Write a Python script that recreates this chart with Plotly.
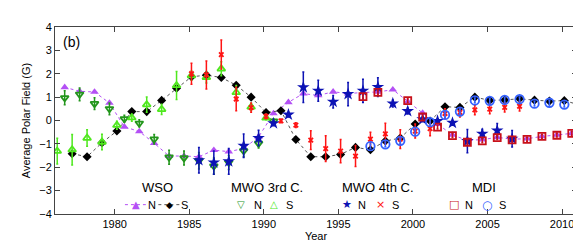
import plotly.graph_objects as go

# observation epochs within each year (north pole best seen ~Sept, south ~March)
NORTH_EPOCH = 0.65
SOUTH_EPOCH = 0.15

# ---- WSO ----
wso_n_years = list(range(1976, 2011))
wso_n = [1.42, 1.25, 1.22, 0.75, -0.27, -0.47, -0.97, -1.52, -1.52, -1.55,
         -1.27, -1.33, -1.2, -0.7, 0.3, 0.78, 1.15, 1.07, 1.23, 1.15,
         1.2, 1.22, 1.32, 0.8, 0.32, -0.15, -0.62, -0.85, -0.82, -0.72,
         -0.8, -0.78, -0.68, -0.62, -0.55]
wso_s_years = list(range(1977, 2012))
wso_s = [-1.42, -1.55, -0.95, -0.45, 0.38, 0.38, 0.86, 1.38, 1.87, 1.94,
         1.84, 1.51, 1.0, 0.34, 0.42, -0.81, -1.55, -1.55, -1.45, -1.15,
         -1.25, -0.88, -0.75, -0.15, -0.02, 0.59, 0.56, 1.0, 0.86, 0.88,
         0.93, 0.87, 0.83, 0.85, 0.67]

# ---- MWO 3rd calibration ----
mwo3_years = list(range(1976, 1991))
mwo3_n = [0.97, 1.12, 0.72, 0.5, 0.07, -0.12, -0.8, -1.57, -1.6, -1.72,
          -1.95, -1.8, -1.3, -0.98, -0.03]
mwo3_n_err = [0.3, 0.27, 0.25, 0.25, 0.15, 0.15, 0.2, 0.3, 0.3, 0.35,
              0.35, 0.3, 0.25, 0.2, 0.1]
mwo3_s = [-1.31, -1.25, -0.75, -0.92, -0.2, 0.12, 0.68, 0.48, 1.5, 1.92,
          1.85, 2.21, 1.2, 0.58, 0.11]
mwo3_s_err = [0.55, 0.65, 0.35, 0.33, 0.17, 0.15, 0.33, 0.22, 0.6, 0.2,
              0.25, 0.3, 0.3, 0.15, 0.08]

# ---- MWO 4th calibration ----
mwo4_n_years = list(range(1985, 2007))
mwo4_n = [-1.7, -1.8, -1.75, -1.08, -0.75, -0.12, 0.25, 1.42, 1.27, 0.8,
          1.13, 1.27, 1.43, 0.73, 0.4, 0.05, -0.02, -0.1, -0.88, -0.57,
          -0.43, -0.78]
mwo4_n_err = [0.55, 0.5, 0.55, 0.5, 0.33, 0.1, 0.1, 0.65, 0.45, 0.27,
              0.5, 0.5, 0.4, 0.15, 0.12, 0.1, 0.1, 0.1, 0.5, 0.2,
              0.3, 0.35]
mwo4_s_years = list(range(1985, 2008))
mwo4_s = [2.0, 1.95, 2.82, 0.92, 0.55, 0.18, -0.02, -0.2, -0.84, -1.2,
          -1.31, -1.52, -0.8, -0.57, -0.8, -0.45, -0.35, 0.3, 0.35, 0.45,
          0.49, 0.56, 0.61]
mwo4_s_err = [0.45, 0.6, 0.62, 0.5, 0.2, 0.1, 0.08, 0.1, 0.4, 0.55,
              0.5, 0.45, 0.3, 0.45, 0.4, 0.3, 0.3, 0.2, 0.2, 0.2,
              0.2, 0.2, 0.2]

# ---- MDI ----
mdi_n_years = list(range(1996, 2011))
mdi_n = [1.02, 1.2, None, 0.85, 0.15, -0.28, -0.65, -0.93, -0.87, -0.73,
         -0.83, -0.81, -0.68, -0.63, -0.55]
mdi_n_err = [0.08] * len(mdi_n_years)
mdi_s_years = list(range(1997, 2011))
mdi_s = [-1.1, -1.02, -0.87, -0.48, -0.07, 0.24, 0.38, 0.86, 0.84, 0.88,
         0.91, 0.72, 0.76, 0.68]
mdi_s_err = [0.1] * len(mdi_s_years)

x_ticks = [1980, 1985, 1990, 1995, 2000, 2005, 2010]
y_ticks = [-4, -3, -2, -1, 0, 1, 2, 3, 4]

PURPLE = "#b450f5"
BLACK = "#000000"
DKGREEN = "#23961c"
LTGREEN = "#4fe81e"
BLUE = "#0c12b4"
RED = "#ff1414"
DKRED = "#c8101a"
LTBLUE = "#3461ff"

def tn(years):
    return [y + NORTH_EPOCH for y in years]

def ts(years):
    return [y + SOUTH_EPOCH for y in years]

def err(arr, color):
    return dict(type="data", array=arr, visible=True, thickness=1.5, width=1, color=color)

fig = go.Figure()

fig.add_trace(go.Scatter(x=tn(wso_n_years), y=wso_n, mode="lines+markers",
                         line=dict(color=PURPLE, width=1, dash="dot"),
                         marker=dict(symbol="triangle-up", size=7.5, color=PURPLE)))
fig.add_trace(go.Scatter(x=ts(wso_s_years), y=wso_s, mode="lines+markers",
                         line=dict(color="#555555", width=1, dash="dot"),
                         marker=dict(symbol="diamond", size=7, color=BLACK)))
fig.add_trace(go.Scatter(x=tn(mwo3_years), y=mwo3_n, mode="markers",
                         error_y=err(mwo3_n_err, DKGREEN),
                         marker=dict(symbol="triangle-down-open", size=7, color=DKGREEN,
                                     line=dict(width=1.8, color=DKGREEN))))
fig.add_trace(go.Scatter(x=ts(mwo3_years), y=mwo3_s, mode="markers",
                         error_y=err(mwo3_s_err, LTGREEN),
                         marker=dict(symbol="triangle-up-open", size=7, color=LTGREEN,
                                     line=dict(width=1.8, color=LTGREEN))))
fig.add_trace(go.Scatter(x=tn(mwo4_n_years), y=mwo4_n, mode="markers",
                         error_y=err(mwo4_n_err, BLUE),
                         marker=dict(symbol="star", size=9.5, color=BLUE)))
fig.add_trace(go.Scatter(x=ts(mwo4_s_years), y=mwo4_s, mode="markers",
                         error_y=err(mwo4_s_err, RED),
                         marker=dict(symbol="x-thin-open", size=4.5, color=RED,
                                     line=dict(width=1.8, color=RED))))
fig.add_trace(go.Scatter(x=tn(mdi_n_years), y=mdi_n, mode="markers",
                         error_y=err(mdi_n_err, DKRED),
                         marker=dict(symbol="square-open", size=7, color=DKRED,
                                     line=dict(width=1.8, color=DKRED))))
fig.add_trace(go.Scatter(x=ts(mdi_s_years), y=mdi_s, mode="markers",
                         error_y=err(mdi_s_err, LTBLUE),
                         marker=dict(symbol="circle-open", size=8.5, color=LTBLUE,
                                     line=dict(width=1.8, color=LTBLUE))))

FONT = "Liberation Sans, Arial, sans-serif"

annotations = [
    dict(text="(b)", x=0.012, y=0.975, xref="paper", yref="paper", xanchor="left",
         yanchor="top", showarrow=False, font=dict(size=14, color="black")),
]

# legend block (group titles + entries)
LEG_TITLE_Y = 0.142
LEG_ROW_Y = 0.05
groups = [
    ("WSO", 0.197, [("▲", PURPLE, 0.155, 10), ("N", "black", 0.185, 11),
                    ("◆", BLACK, 0.2185, 9), ("S", "black", 0.249, 11)]),
    ("MWO 3rd C.", 0.406, [("▽", DKGREEN, 0.357, 10), ("N", "black", 0.388, 11),
                           ("△", LTGREEN, 0.42, 10), ("S", "black", 0.449, 11)]),
    ("MWO 4th C.", 0.618, [("★", BLUE, 0.560, 11), ("N", "black", 0.589, 11),
                           ("×", RED, 0.623, 11), ("S", "black", 0.652, 11)]),
    ("MDI", 0.821, [("□", DKRED, 0.765, 11), ("N", "black", 0.794, 11),
                    ("○", LTBLUE, 0.828, 12), ("S", "black", 0.857, 11)]),
]
for title, cx, items in groups:
    annotations.append(dict(text=title, x=cx, y=LEG_TITLE_Y, xref="paper", yref="paper",
                            xanchor="center", yanchor="middle", showarrow=False,
                            font=dict(size=13, color="black")))
    for sym, col, px, fs in items:
        fam = FONT if sym in ("N", "S") else "DejaVu Sans"
        annotations.append(dict(text=sym, x=px, y=LEG_ROW_Y, xref="paper", yref="paper",
                                xanchor="center", yanchor="middle", showarrow=False,
                                font=dict(size=fs, color=col, family=fam)))

shapes = [
    dict(type="line", xref="paper", yref="paper", x0=0.134, x1=0.174, y0=LEG_ROW_Y, y1=LEG_ROW_Y,
         line=dict(color=PURPLE, width=1, dash="dot")),
    dict(type="line", xref="paper", yref="paper", x0=0.198, x1=0.241, y0=LEG_ROW_Y, y1=LEG_ROW_Y,
         line=dict(color="#555555", width=1, dash="dot")),
]

fig.update_layout(
    width=581, height=243,
    margin=dict(l=47, r=11, t=19, b=27),
    paper_bgcolor="white", plot_bgcolor="white",
    showlegend=False,
    font=dict(family=FONT, size=11, color="black"),
    annotations=annotations,
    shapes=shapes,
)
fig.update_xaxes(range=[1976, 2011], tickvals=x_ticks, ticks="inside", ticklen=5,
                 tickcolor="#444444", showline=True, linecolor="#444444", linewidth=1,
                 mirror="ticks", showgrid=False, zeroline=False,
                 title=dict(text="Year", standoff=2, font=dict(size=11)),
                 tickfont=dict(size=11))
fig.update_yaxes(range=[-4, 4], tickvals=y_ticks, ticks="inside", ticklen=5,
                 tickcolor="#444444", showline=True, linecolor="#444444", linewidth=1,
                 mirror="ticks", showgrid=False, zeroline=False,
                 title=dict(text="Average Polar Field (G)", standoff=6, font=dict(size=11)),
                 tickfont=dict(size=11))

fig.write_html("out.html")
